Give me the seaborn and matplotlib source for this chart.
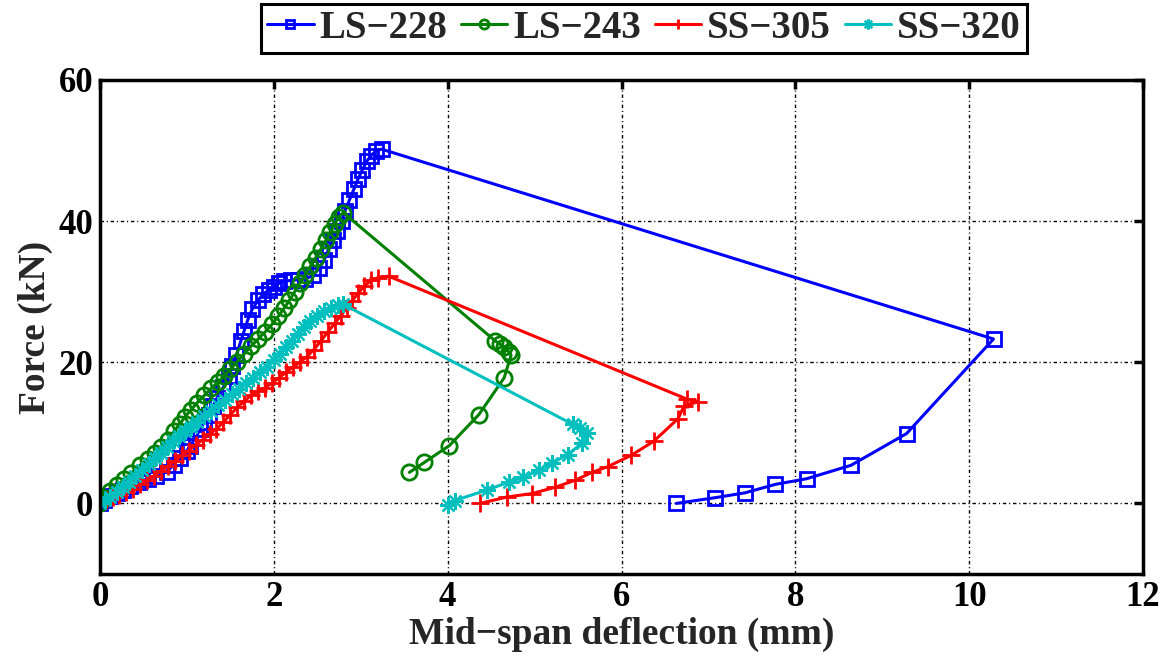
import matplotlib
matplotlib.use("Agg")
import matplotlib.pyplot as plt
import seaborn as sns
import pandas as pd

# ---- data ----
ls228_x = [0, 0.05, 0.12, 0.2, 0.27, 0.35, 0.45, 0.55, 0.65, 0.77, 0.85, 0.92, 1.0, 1.04, 1.1,
           1.15, 1.2, 1.25, 1.3, 1.35, 1.42, 1.48, 1.52, 1.57, 1.62, 1.66, 1.7, 1.75, 1.82, 1.88,
           1.95, 2.0, 2.06, 2.12, 2.2, 2.28, 2.36, 2.45, 2.52, 2.58, 2.63, 2.68, 2.73, 2.78, 2.82,
           2.87, 2.92, 2.97, 3.02, 3.07, 3.12, 3.18, 3.24,
           10.28, 9.28, 8.64, 8.13, 7.77, 7.42, 7.07, 6.63]
ls228_y = [0, 0.5, 1.0, 1.5, 1.9, 2.4, 3.0, 3.5, 3.9, 4.5, 5.5, 6.5, 7.5, 8.2, 9.3,
           10.5, 11.5, 12.5, 13.8, 15.0, 16.5, 18.0, 19.5, 21.0, 23.0, 24.5, 26.0, 27.5, 28.8, 29.7,
           30.3, 30.6, 31.2, 31.5, 31.6, 31.7, 31.8, 32.3, 33.3, 34.5, 36.0, 37.3, 38.6, 40.0, 41.5,
           43.0, 44.5, 46.0, 47.3, 48.5, 49.3, 50.0, 50.2,
           23.3, 9.9, 5.4, 3.5, 2.7, 1.5, 0.8, 0.0]

ls243_x = [0, 0.06, 0.12, 0.2, 0.28, 0.36, 0.46, 0.55, 0.63, 0.7, 0.78, 0.85, 0.92, 0.98, 1.05,
           1.12, 1.2, 1.28, 1.36, 1.43, 1.5, 1.58, 1.66, 1.74, 1.82, 1.9, 1.98, 2.05, 2.12, 2.18,
           2.24, 2.3, 2.36, 2.42, 2.48, 2.54, 2.6, 2.65, 2.7, 2.75, 2.8,
           4.55, 4.60, 4.65, 4.70, 4.73, 4.65, 4.36, 4.02, 3.73, 3.56]
ls243_y = [0, 0.8, 1.8, 2.6, 3.4, 4.3, 5.4, 6.3, 7.2, 8.0, 9.0, 10.2, 11.3, 12.3, 13.3,
           14.3, 15.3, 16.3, 17.2, 18.1, 19.0, 20.1, 21.2, 22.3, 23.3, 24.3, 25.4, 26.5, 27.7, 28.8,
           30.0, 31.2, 32.4, 33.6, 34.8, 36.0, 37.3, 38.5, 39.6, 40.6, 41.2,
           23.0, 22.6, 22.1, 21.5, 21.0, 17.8, 12.6, 8.2, 5.8, 4.4]

ss305_x = [0, 0.07, 0.15, 0.22, 0.3, 0.38, 0.46, 0.54, 0.62, 0.7, 0.78, 0.86, 0.94, 1.02, 1.1,
           1.18, 1.26, 1.34, 1.42, 1.5, 1.58, 1.66, 1.74, 1.82, 1.9, 1.98, 2.06, 2.14, 2.22, 2.3,
           2.38, 2.46, 2.54, 2.62, 2.7, 2.77, 2.84, 2.9, 2.97, 3.04, 3.12, 3.2, 3.32,
           6.75, 6.88, 6.72, 6.65, 6.37, 6.11, 5.84, 5.66, 5.47, 5.24, 4.97, 4.68, 4.37]
ss305_y = [0, 0.5, 0.9, 1.2, 1.6, 2.1, 2.7, 3.3, 3.9, 4.6, 5.3, 6.0, 6.8, 7.5, 8.3,
           9.0, 9.8, 10.6, 11.5, 12.6, 13.6, 14.5, 15.3, 15.9, 16.4, 17.1, 17.8, 18.6, 19.3, 20.0,
           20.8, 21.8, 23.0, 24.3, 25.5, 26.6, 27.7, 28.7, 29.8, 30.8, 31.6, 32.0, 32.2,
           14.8, 14.4, 13.8, 12.0, 8.8, 6.8, 5.2, 4.4, 3.3, 2.3, 1.4, 0.9, 0.0]

ss320_x = [0, 0.06, 0.12, 0.19, 0.26, 0.33, 0.4, 0.48, 0.56, 0.63, 0.7, 0.77, 0.84, 0.91, 0.98,
           1.05, 1.12, 1.2, 1.28, 1.36, 1.44, 1.52, 1.6, 1.68, 1.76, 1.84, 1.92, 2.0, 2.07, 2.14,
           2.21, 2.28, 2.35, 2.42, 2.5, 2.58, 2.66, 2.74, 2.8,
           5.44, 5.52, 5.60, 5.55, 5.38, 5.2, 5.05, 4.87, 4.7, 4.45, 4.08, 4.0]
ss320_y = [0, 0.5, 0.9, 1.6, 2.3, 3.1, 3.9, 4.8, 5.6, 6.4, 7.2, 8.0, 8.8, 9.6, 10.3,
           10.9, 11.6, 12.4, 13.1, 13.9, 14.7, 15.5, 16.2, 17.0, 17.8, 18.6, 19.4, 20.3, 21.2, 22.1,
           23.0, 24.0, 25.0, 25.8, 26.6, 27.2, 27.7, 28.1, 28.2,
           11.2, 10.7, 10.0, 8.6, 6.9, 5.7, 4.7, 3.7, 3.0, 1.9, 0.4, -0.2]

series_names = ["LS\u2212228", "LS\u2212243", "SS\u2212305", "SS\u2212320"]
x_ticks = [0, 2, 4, 6, 8, 10, 12]
y_ticks = [0, 20, 40, 60]

# ---- style ----
sns.set_style("white")
plt.rcParams["font.family"] = ["Liberation Serif", "DejaVu Serif"]
plt.rcParams["font.weight"] = "bold"
plt.rcParams["axes.labelweight"] = "bold"

fig = plt.figure(figsize=(11.61, 6.61), dpi=100)
ax = fig.add_axes([100 / 1161, 1 - 574 / 661, (1143 - 100) / 1161, (574 - 80) / 661])

styles = [
    dict(color="#0000FF", marker="s", ms=10, mew=2.0),
    dict(color="#008000", marker="o", ms=11, mew=2.0),
    dict(color="#FF0000", marker="+", ms=13, mew=2.0),
    dict(color="#00BFBF", marker=(8, 2, 0), ms=12, mew=1.6),
]
xs = [ls228_x, ls243_x, ss305_x, ss320_x]
ys = [ls228_y, ls243_y, ss305_y, ss320_y]

handles = []
for name, xv, yv, st in zip(series_names, xs, ys, styles):
    df = pd.DataFrame({"x": xv, "y": yv})
    sns.lineplot(data=df, x="x", y="y", sort=False, estimator=None, ax=ax,
                 color=st["color"], marker=st["marker"], ms=st["ms"],
                 mfc="none", mec=st["color"], mew=st["mew"], lw=2.2, label=name)
    handles.append(ax.get_lines()[-1])

ax.set_xlim(0, 12)
ax.set_ylim(-10, 60)
ax.set_xticks(x_ticks)
ax.set_yticks(y_ticks)
ax.set_xticklabels([str(t) for t in x_ticks])
ax.set_yticklabels([str(t) for t in y_ticks])

ax.grid(True, color="black", lw=1.0, linestyle=(0, (2.5, 2.0, 0.8, 2.0)))
for s in ax.spines.values():
    s.set_visible(True)
    s.set_color("black")
    s.set_linewidth(2.5)
ax.tick_params(axis="both", which="both", direction="in", length=6.5, width=2.5,
               top=True, right=True, labelsize=25, pad=5, colors="black")
for lab in ax.get_xticklabels() + ax.get_yticklabels():
    lab.set_fontweight("bold")

ax.set_xlabel("Mid\u2212span deflection (mm)", fontsize=27, fontweight="bold", labelpad=2)
ax.set_ylabel("Force (kN)", fontsize=27, fontweight="bold", labelpad=4)

leg = ax.legend(handles=handles, labels=series_names, ncol=4, loc="upper center",
                bbox_to_anchor=(644 / 1161, 1 - 4 / 661), bbox_transform=fig.transFigure,
                frameon=True, fancybox=False, shadow=False,
                handlelength=1.2, handletextpad=0.15, columnspacing=0.35,
                borderpad=0.15, borderaxespad=0, markerscale=0.6,
                prop={"weight": "bold", "size": 28})
leg.get_frame().set_edgecolor("black")
leg.get_frame().set_linewidth(2.2)
leg.get_frame().set_facecolor("white")
leg.get_frame().set_alpha(1)

fig.savefig("out.png", dpi=100, facecolor="white")
